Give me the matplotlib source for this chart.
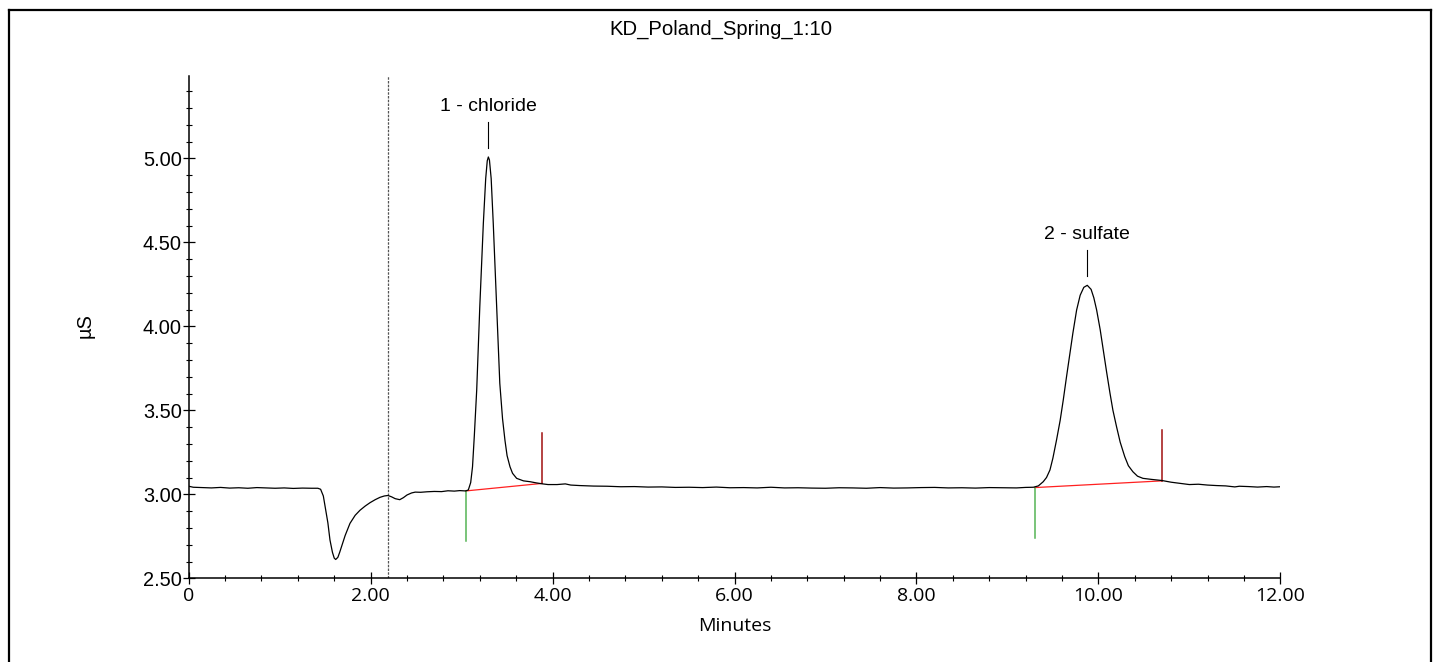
import matplotlib
matplotlib.use("Agg")
import matplotlib.pyplot as plt
from matplotlib.lines import Line2D
from matplotlib.ticker import MultipleLocator, FixedLocator

# ---- data ----
time_min = [0.00, 0.05, 0.15, 0.25, 0.35, 0.45, 0.55, 0.65, 0.75, 0.85, 0.95, 1.05, 1.15, 1.25,
            1.35, 1.42, 1.45, 1.48, 1.50, 1.53, 1.553, 1.58, 1.60, 1.616, 1.64, 1.66, 1.68, 1.72,
            1.773, 1.83, 1.883, 1.94, 1.993, 2.05, 2.103, 2.15, 2.19, 2.23, 2.27, 2.32, 2.36, 2.40,
            2.45, 2.49, 2.55, 2.62, 2.70, 2.78, 2.85, 2.92, 2.98, 3.045, 3.074, 3.10, 3.12, 3.14,
            3.166, 3.20, 3.239, 3.265, 3.282, 3.294, 3.306, 3.325, 3.348, 3.386, 3.42, 3.45, 3.477,
            3.50, 3.532, 3.56, 3.605, 3.68, 3.752, 3.82, 3.891, 3.95, 4.05, 4.14, 4.20, 4.30, 4.45,
            4.60, 4.75, 4.90, 5.05, 5.20, 5.35, 5.50, 5.65, 5.80, 5.95, 6.10, 6.25, 6.40, 6.55,
            6.70, 6.85, 7.00, 7.15, 7.30, 7.45, 7.60, 7.75, 7.90, 8.05, 8.20, 8.35, 8.50, 8.65,
            8.80, 8.95, 9.10, 9.20, 9.285, 9.34, 9.394, 9.43, 9.468, 9.50, 9.54, 9.58, 9.614,
            9.65, 9.688, 9.72, 9.761, 9.80, 9.84, 9.878, 9.92, 9.95, 9.981, 10.02, 10.054, 10.09,
            10.128, 10.16, 10.20, 10.24, 10.29, 10.33, 10.38, 10.43, 10.49, 10.58, 10.70, 10.80,
            10.90, 11.00, 11.10, 11.20, 11.30, 11.40, 11.50, 11.55, 11.65, 11.75, 11.85, 11.93,
            12.00]
signal_uS = [3.048, 3.042, 3.040, 3.038, 3.041, 3.037, 3.039, 3.036, 3.040, 3.038, 3.036, 3.038,
             3.035, 3.037, 3.036, 3.036, 3.030, 2.990, 2.926, 2.830, 2.728, 2.655, 2.620, 2.612,
             2.625, 2.655, 2.688, 2.755, 2.827, 2.875, 2.905, 2.930, 2.950, 2.968, 2.982, 2.990,
             2.993, 2.985, 2.974, 2.968, 2.980, 2.996, 3.008, 3.013, 3.012, 3.015, 3.017, 3.016,
             3.021, 3.019, 3.022, 3.020, 3.026, 3.070, 3.164, 3.350, 3.620, 4.117, 4.613, 4.880,
             4.985, 5.008, 4.990, 4.880, 4.613, 4.117, 3.660, 3.450, 3.320, 3.230, 3.164, 3.125,
             3.095, 3.080, 3.075, 3.068, 3.062, 3.058, 3.058, 3.062, 3.055, 3.052, 3.049, 3.048,
             3.045, 3.046, 3.043, 3.044, 3.041, 3.042, 3.040, 3.043, 3.039, 3.040, 3.038, 3.042,
             3.038, 3.039, 3.037, 3.036, 3.039, 3.038, 3.036, 3.040, 3.037, 3.038, 3.040, 3.041,
             3.038, 3.039, 3.037, 3.040, 3.039, 3.038, 3.041, 3.042, 3.050, 3.075, 3.100, 3.145,
             3.215, 3.323, 3.440, 3.561, 3.700, 3.839, 3.960, 4.097, 4.185, 4.232, 4.244, 4.220,
             4.170, 4.097, 3.980, 3.859, 3.730, 3.601, 3.500, 3.402, 3.310, 3.224, 3.170, 3.134,
             3.108, 3.095, 3.089, 3.082, 3.072, 3.065, 3.058, 3.060, 3.055, 3.052, 3.050, 3.044,
             3.048, 3.046, 3.043, 3.046, 3.043, 3.045]

peak_names = ["1 - chloride", "2 - sulfate"]
peak_times = [3.294, 9.871]
peak_heights = [5.008, 4.244]
peak_start_t = [3.045, 9.30]
peak_start_v = [3.020, 3.040]
peak_end_t = [3.887, 10.70]
peak_end_v = [3.065, 3.080]
inject_marker_t = 2.19

x_ticks = [0, 2, 4, 6, 8, 10, 12]
x_tick_labels = ["0", "2.00", "4.00", "6.00", "8.00", "10.00", "12.00"]
y_ticks = [2.5, 3.0, 3.5, 4.0, 4.5, 5.0]
y_tick_labels = ["2.50", "3.00", "3.50", "4.00", "4.50", "5.00"]

title = "KD_Poland_Spring_1:10"
x_label = "Minutes"
y_label = "\u00b5S"

# ---- figure ----
W, H = 1439, 662
fig = plt.figure(figsize=(W / 100, H / 100), dpi=100)
ax = fig.add_axes([188.7 / W, 1 - 578.3 / H, 1091.6 / W, 502.3 / H])

sans = ["Liberation Sans", "DejaVu Sans"]
human = ["Open Sans", "DejaVu Sans"]

ax.plot(time_min, signal_uS, color="black", lw=0.9, zorder=3)

# integration baselines and markers
for ts, vs, te, ve in zip(peak_start_t, peak_start_v, peak_end_t, peak_end_v):
    ax.plot([ts, te], [vs, ve], color="#ff2020", lw=0.9, zorder=2)
    ax.plot([ts, ts], [vs, vs - 0.30], color="#55b455", lw=1.1, zorder=2)
    ax.plot([te, te], [ve, ve + 0.30], color="#a01010", lw=1.1, zorder=2)

# peak labels
for name, pt, ph in zip(peak_names, peak_times, peak_heights):
    ax.plot([pt, pt], [ph + 0.055, ph + 0.21], color="black", lw=0.8)
    ax.text(pt, ph + 0.30, name, ha="center", va="center", fontsize=14, family=sans)

ax.set_xlim(0, 12)
ax.set_ylim(2.5, 5.49)
ax.axvline(inject_marker_t, color="#555555", lw=0.9, ls=(0, (2, 1)), zorder=1)

for s in ["top", "right"]:
    ax.spines[s].set_visible(False)
ax.spines["left"].set_linewidth(1.1)
ax.spines["bottom"].set_linewidth(1.1)

ax.xaxis.set_major_locator(FixedLocator(x_ticks))
ax.set_xticklabels(x_tick_labels, fontsize=14, family=human)
ax.xaxis.set_minor_locator(MultipleLocator(0.4))
ax.yaxis.set_major_locator(FixedLocator(y_ticks))
ax.set_yticklabels(y_tick_labels, fontsize=14.4, family=sans)
ax.yaxis.set_minor_locator(MultipleLocator(0.1))
ax.tick_params(which="major", direction="inout", length=8, width=0.9, color="black")
ax.tick_params(which="minor", direction="inout", length=5, width=0.8, color="black")
ax.tick_params(axis="x", which="major", pad=2)
ax.tick_params(axis="y", which="major", pad=1)

ax.set_xlabel(x_label, fontsize=14, family=human, va="center")
ax.xaxis.set_label_coords(0.5, -0.095)
ax.set_ylabel(y_label, fontsize=14.4, family=sans, va="center")
ax.yaxis.set_label_coords(-0.095, 0.504)

fig.text(720.7 / W, 1 - 29 / H, title, ha="center", va="center", fontsize=14.6, family=sans)

# outer frame
fig.add_artist(Line2D([8.5 / W, 8.5 / W], [0, 1 - 10 / H], transform=fig.transFigure, color="black", lw=1.6))
fig.add_artist(Line2D([1431 / W, 1431 / W], [0, 1 - 10 / H], transform=fig.transFigure, color="black", lw=1.6))
fig.add_artist(Line2D([8.5 / W, 1431 / W], [1 - 10 / H, 1 - 10 / H], transform=fig.transFigure, color="black", lw=1.6))

fig.savefig("out.png", dpi=100, facecolor="white")
